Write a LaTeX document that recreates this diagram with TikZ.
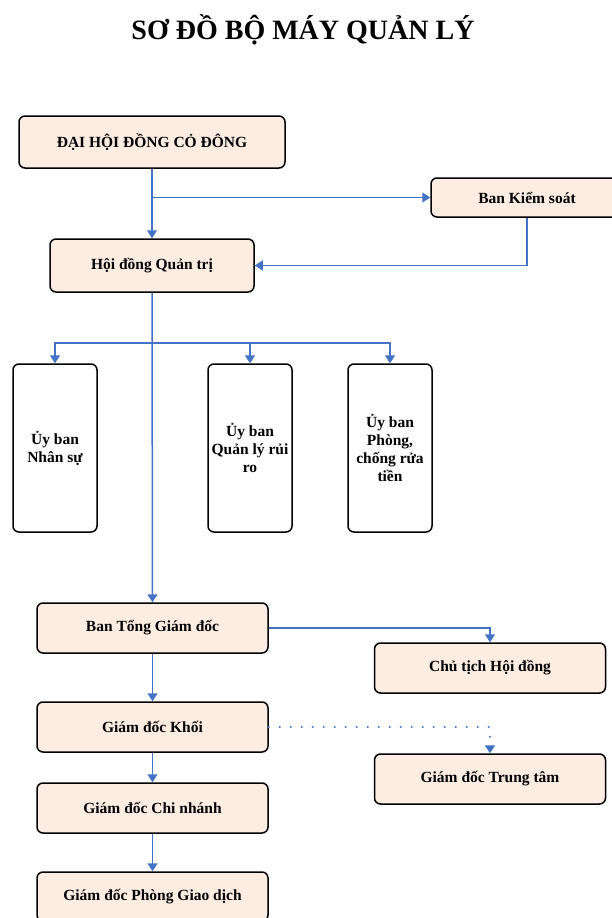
\documentclass[tikz,border=0pt]{standalone}
\usepackage{fontspec}
\setmainfont{Liberation Serif}
\usepackage{xcolor}
\usetikzlibrary{shapes,arrows.meta}
\definecolor{boxfill}{RGB}{252,236,225}
\definecolor{linkblue}{RGB}{68,114,196}

\begin{document}
\begin{tikzpicture}[x=1pt, y=-1pt, font=\bfseries\fontsize{15.5}{18}\selectfont]
  \tikzstyle{block} = [rectangle, draw, line width=1.5pt, fill=boxfill, rounded corners=6pt, inner sep=0pt, text centered]
  \tikzstyle{wide} = [block, minimum width=231pt, minimum height=50pt]
  \tikzstyle{tall} = [block, fill=white, minimum width=84pt, minimum height=168pt, align=center]
  \tikzstyle{line} = [draw, linkblue, line width=1.5pt, -{Triangle[length=8pt,width=10pt]}]
  \tikzstyle{dotline} = [line, line width=2.2pt, line cap=round, dash pattern=on 0pt off 11pt]

  \useasboundingbox (0,0) rectangle (612,918);

  \node [font=\bfseries\fontsize{28}{34}\selectfont, anchor=base] (title) at (303,39) {SƠ ĐỒ BỘ MÁY QUẢN LÝ};

  \node [block, minimum width=266pt, minimum height=52pt] (dhdcd) at (152,142) {ĐẠI HỘI ĐỒNG CỎ ĐÔNG};
  \node [block, minimum width=192pt, minimum height=39pt] (bks) at (527,197.5) {Ban Kiểm soát};
  \node [block, minimum width=204pt, minimum height=53pt] (hdqt) at (152,265.5) {Hội đồng Quản trị};
  \node [tall] (ubns) at (55,448) {Ủy ban\\Nhân sự};
  \node [tall] (ubql) at (250,448) {Ủy ban\\Quản lý rủi\\ro};
  \node [tall] (ubpc) at (390,448) {Ủy ban\\Phòng,\\chống rửa\\tiền};
  \node [wide] (btgd) at (152.5,628) {Ban Tổng Giám đốc};
  \node [wide] (ctich) at (490,668) {Chủ tịch Hội đồng};
  \node [wide] (gdk) at (152.5,727) {Giám đốc Khối};
  \node [wide] (gdtt) at (490,779) {Giám đốc Trung tâm};
  \node [wide] (gdcn) at (152.5,808) {Giám đốc Chi nhánh};
  \node [wide, minimum height=49pt] (gdpgd) at (152.5,896.5) {Giám đốc Phòng Giao dịch};

  \coordinate (ub) at (152,343);

  \path [line] (dhdcd) -- (hdqt);
  \path [line] (dhdcd.south |- bks.west) -- (bks.west);
  \path [line] (bks.south) |- (hdqt.east);
  \path [line] (hdqt) -- (btgd);
  \foreach \u in {ubns,ubql,ubpc}
    \path [line] (ub) -| (\u.north);
  \path [line] (btgd.east) -| (ctich.north);
  \path [line] (btgd) -- (gdk);
  \path [line] (gdk) -- (gdcn);
  \path [line] (gdcn) -- (gdpgd);
  \path [dotline] (gdk.east) -| (gdtt.north);
\end{tikzpicture}
\end{document}
